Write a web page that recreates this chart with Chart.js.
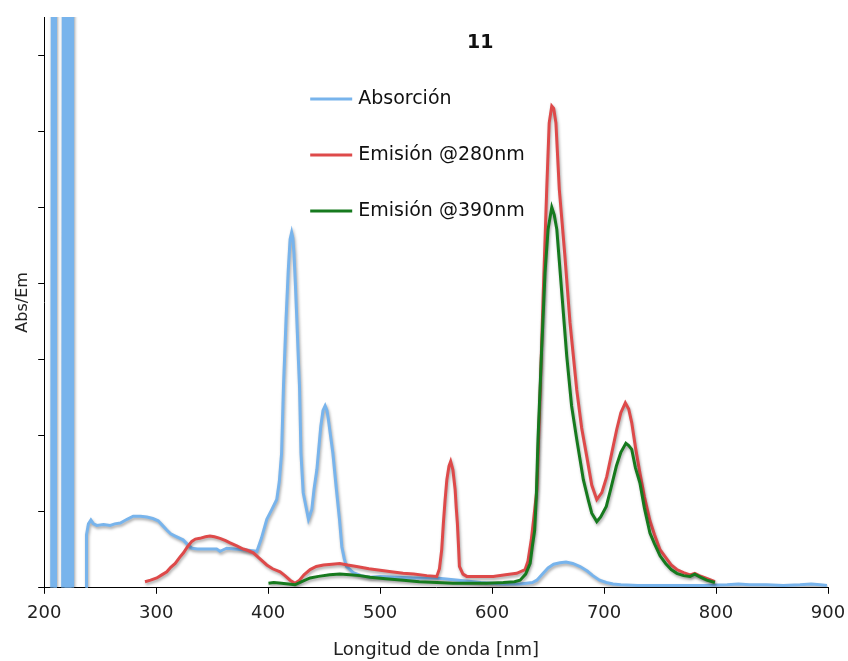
<!DOCTYPE html>
<html>
<head>
<meta charset="utf-8">
<script src="https://cdn.jsdelivr.net/npm/chart.js@4/dist/chart.umd.min.js"></script>
<style>
  html, body { margin: 0; padding: 0; background: #fff; }
  #wrap { width: 848px; height: 661px; }
</style>
</head>
<body>
<div id="wrap"><canvas id="grafico"></canvas></div>
<script>
// Absorción (las bandas de 205-226 nm salen de escala; null corta la línea)
const absNm = [206.7, 207.2, 207.7, 208.2, 208.7, 209.2, 209.7, 210.1, 212,
  216.5, 217, 217.5, 218, 218.5, 219, 219.5, 220, 220.5, 221, 221.5, 222, 222.5, 223, 223.5, 224, 224.5, 225, 225.4, 230,
  237.4, 237.8, 239.5, 241.7, 244, 247, 253, 259, 263, 268, 274, 279.5, 286, 291.7, 297, 301.8, 305, 309.5, 313, 317,
  324, 328, 331.8, 337, 342, 348, 354, 357, 360, 363, 370, 377.8, 384, 390, 394, 398.8, 403, 407.7, 410, 412, 413.7,
  416, 418, 419.6, 421, 422, 423, 424.3, 425.6, 427, 428, 429.3, 431.3, 436, 439, 441, 443.5, 447, 449, 450.9, 452.5,
  453.8, 457.8, 460.7, 463.7, 465.8, 468, 470, 476, 483, 491, 500, 515, 530, 550, 570, 590, 610, 625, 636, 640, 645,
  650, 655, 660.7, 666, 672, 678.6, 685, 690, 696, 702, 708, 715, 730, 750, 770, 790, 810, 820, 830, 845, 860, 875,
  885, 893, 899];
const absVal = [0, 8, 0, 8, 0, 8, 0, 8, null,
  0, 8, 0, 8, 0, 8, 0, 8, 0, 8, 0, 8, 0, 8, 0, 8, 0, 8, 0, null,
  0, 0.7, 0.84, 0.89, 0.84, 0.82, 0.83, 0.82, 0.84, 0.85, 0.9, 0.94, 0.94, 0.93, 0.91, 0.88, 0.83, 0.76, 0.71, 0.68,
  0.63, 0.57, 0.52, 0.51, 0.51, 0.51, 0.51, 0.48, 0.5, 0.52, 0.51, 0.5, 0.49, 0.48, 0.65, 0.9, 1.02, 1.16, 1.4, 1.77, 2.65,
  3.53, 4.18, 4.58, 4.67, 4.6, 4.41, 4.0, 3.53, 3.0, 2.65, 1.77, 1.25, 0.9, 1.03, 1.3, 1.55, 2.12, 2.33, 2.39, 2.33,
  2.21, 1.77, 1.33, 0.9, 0.54, 0.38, 0.28, 0.2, 0.16, 0.14, 0.15, 0.14, 0.13, 0.13, 0.1, 0.07, 0.05, 0.05, 0.07, 0.1, 0.18,
  0.26, 0.31, 0.33, 0.34, 0.32, 0.28, 0.22, 0.16, 0.1, 0.07, 0.05, 0.04, 0.03, 0.03, 0.03, 0.03, 0.04, 0.05, 0.04, 0.04, 0.03, 0.04,
  0.05, 0.04, 0.03];

// Emisión excitando a 280 nm
const em280Nm = [290, 295, 300.6, 305, 309.5, 313, 317, 321, 324.4, 328, 331.8, 335, 339, 344, 348, 352, 357, 362, 366,
  372, 377.8, 382, 386.8, 392, 398.8, 404, 410.7, 415, 419.6, 424, 428, 432, 437.5, 443, 449.4, 457, 464, 471, 479, 490,
  500, 510, 520.5, 530, 541.7, 550.6, 553, 555, 556.5, 558, 559.6, 561.5, 563, 565, 567, 568, 569, 570, 570.8, 574,
  577.4, 590, 601, 612, 622, 629.5, 632, 635, 637.5, 640, 643, 645.8, 648.8, 651, 653.3, 655, 657, 660, 662.5, 665,
  669.6, 675.6, 680, 684.5, 689, 693.5, 698, 702.4, 707, 711.3, 715, 719, 722, 724.7, 728, 732, 736, 741, 745, 750,
  755, 760, 765, 771, 776.8, 781, 785, 788.7, 794, 799];
const em280Val = [0.08, 0.1, 0.13, 0.17, 0.21, 0.27, 0.32, 0.4, 0.46, 0.54, 0.61, 0.64, 0.65, 0.67, 0.68, 0.67, 0.65, 0.62, 0.59,
  0.55, 0.51, 0.49, 0.46, 0.39, 0.3, 0.25, 0.21, 0.16, 0.1, 0.06, 0.1, 0.17, 0.24, 0.28, 0.3, 0.31, 0.32, 0.3, 0.28, 0.25,
  0.23, 0.21, 0.19, 0.18, 0.16, 0.15, 0.25, 0.5, 0.85, 1.15, 1.42, 1.6, 1.66, 1.55, 1.29, 1.05, 0.85, 0.55, 0.28, 0.18,
  0.15, 0.15, 0.15, 0.17, 0.19, 0.24, 0.35, 0.63, 0.95, 1.29, 2.6, 3.92, 5.24, 6.11, 6.33, 6.3, 6.11, 5.24, 4.8, 4.36,
  3.48, 2.6, 2.1, 1.73, 1.35, 1.16, 1.25, 1.46, 1.78, 2.08, 2.3, 2.43, 2.35, 2.17, 1.85, 1.51, 1.2, 0.88, 0.7, 0.5,
  0.4, 0.3, 0.24, 0.2, 0.17, 0.19, 0.16, 0.14, 0.11, 0.08];

// Emisión excitando a 390 nm
const em390Nm = [400.3, 405, 412, 418, 424, 430, 437.5, 445, 455, 464, 473, 482, 491, 505, 520.8, 535, 550.6, 565, 580,
  595, 610, 620, 625, 630, 634, 636, 638, 639.5, 641, 644, 647.3, 650, 653.3, 655.5, 657.8, 660, 662, 666.7, 671,
  675.6, 681.5, 686, 689, 693.5, 697, 702, 706, 711, 715, 719.5, 722, 724.7, 728, 732, 736, 741, 745, 750, 755, 760,
  765, 771, 776.8, 781, 786, 791.7, 799];
const em390Val = [0.06, 0.07, 0.06, 0.05, 0.04, 0.08, 0.13, 0.15, 0.17, 0.18, 0.17, 0.16, 0.14, 0.12, 0.1, 0.08, 0.07, 0.06, 0.06,
  0.06, 0.07, 0.08, 0.1, 0.18, 0.32, 0.55, 0.75, 1.2, 1.95, 3.04, 4.14, 4.71, 5.0, 4.9, 4.71, 4.3, 3.92, 3.04, 2.39,
  1.95, 1.42, 1.15, 0.98, 0.87, 0.93, 1.07, 1.3, 1.6, 1.78, 1.9, 1.87, 1.82, 1.58, 1.38, 1.05, 0.72, 0.58, 0.42, 0.32, 0.24,
  0.19, 0.16, 0.15, 0.18, 0.14, 0.1, 0.07];

const xTicks = [200, 300, 400, 500, 600, 700, 800, 900];
const titulo = '11';
const series = ['Absorción', 'Emisión @280nm', 'Emisión @390nm'];
const colores = ['#78b4ec', '#de4a4a', '#167a1e'];

function puntos(nm, val) {
  return nm.map((x, i) => ({ x: x, y: val[i] }));
}

// Sombra gris bajo las curvas, título y leyenda dentro del gráfico
const decoracion = {
  id: 'decoracion',
  beforeDatasetsDraw(chart) {
    const ctx = chart.ctx;
    ctx.save();
    ctx.shadowColor = 'rgba(0,0,0,0.35)';
    ctx.shadowBlur = 3;
    ctx.shadowOffsetX = 1;
    ctx.shadowOffsetY = 2;
  },
  afterDatasetsDraw(chart) {
    const ctx = chart.ctx;
    const a = chart.chartArea;
    ctx.restore();
    ctx.save();
    ctx.fillStyle = '#111';
    ctx.font = 'bold 19px "DejaVu Sans"';
    ctx.textAlign = 'center';
    ctx.textBaseline = 'middle';
    ctx.fillText(titulo, a.left + 436, a.top + 26);
    ctx.font = '19px "DejaVu Sans"';
    ctx.textAlign = 'left';
    series.forEach((s, i) => {
      const y = a.top + 82 + i * 56;
      ctx.strokeStyle = colores[i];
      ctx.lineWidth = 3;
      ctx.beginPath();
      ctx.moveTo(a.left + 266, y);
      ctx.lineTo(a.left + 308, y);
      ctx.stroke();
      ctx.fillText(s, a.left + 314, y);
    });
    ctx.restore();
  }
};

new Chart(document.getElementById('grafico'), {
  type: 'line',
  data: {
    datasets: [
      { label: series[0], data: puntos(absNm, absVal), borderColor: colores[0], order: 3 },
      { label: series[1], data: puntos(em280Nm, em280Val), borderColor: colores[1], order: 2 },
      { label: series[2], data: puntos(em390Nm, em390Val), borderColor: colores[2], order: 1 }
    ]
  },
  options: {
    responsive: true,
    maintainAspectRatio: false,
    animation: false,
    spanGaps: false,
    elements: {
      point: { radius: 0 },
      line: { borderWidth: 3, tension: 0 }
    },
    layout: { padding: { top: 17, right: 0, left: 9, bottom: 0 } },
    plugins: {
      legend: { display: false },
      tooltip: { enabled: false }
    },
    scales: {
      x: {
        type: 'linear',
        min: 200,
        max: 900,
        afterBuildTicks: (axis) => { axis.ticks = xTicks.map(v => ({ value: v })); },
        afterFit: (axis) => { axis.paddingRight = 20; },
        ticks: { font: { family: 'DejaVu Sans', size: 18 }, color: '#222', padding: 9 },
        grid: { drawOnChartArea: false, tickLength: 6, color: '#000' },
        border: { color: '#000', width: 1 },
        title: {
          display: true,
          text: 'Longitud de onda [nm]',
          font: { family: 'DejaVu Sans', size: 18 },
          color: '#222',
          padding: { top: 6, bottom: 0 }
        }
      },
      y: {
        min: 0,
        max: 7.5,
        afterBuildTicks: (axis) => { axis.ticks = axis.ticks.filter(t => Number.isInteger(t.value)); },
        ticks: { display: false, stepSize: 1 },
        grid: { drawOnChartArea: false, tickLength: 6, color: '#000' },
        border: { color: '#000', width: 1 },
        title: {
          display: true,
          text: 'Abs/Em',
          font: { family: 'DejaVu Sans', size: 16 },
          color: '#222',
          padding: { top: 4, bottom: 6 }
        }
      }
    }
  },
  plugins: [decoracion]
});
</script>
</body>
</html>
